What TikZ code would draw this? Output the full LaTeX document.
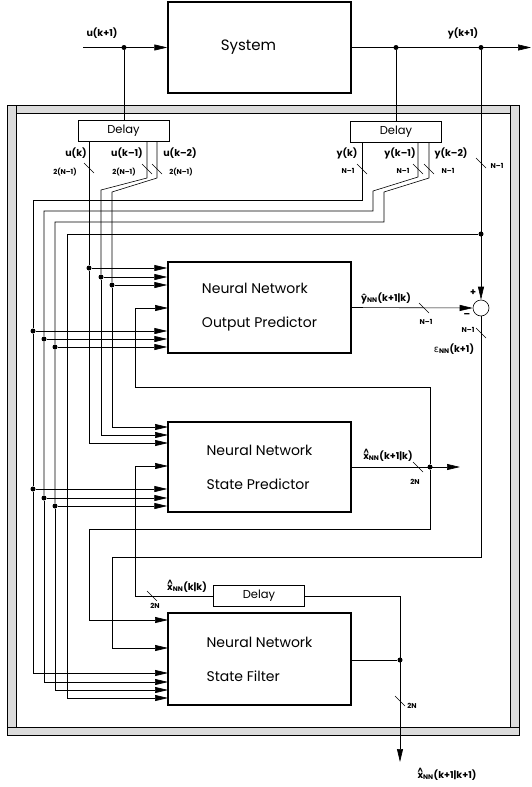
\documentclass[tikz,border=0pt]{standalone}
\usepackage{fontspec}
\usepackage{graphicx}
\setmainfont{Poppins}
\newfontfamily\grk{DejaVu Sans}
\usetikzlibrary{arrows.meta,positioning}

\newcommand{\xhat}{\leavevmode\setbox0\hbox{x}\rlap{\hbox to\wd0{\hss\raisebox{0.95ex}{\scalebox{0.8}{\symbol{"5E}}}\hss}}x}

\tikzset{every picture/.style={line width=0.6pt}}
\tikzset{
  blk/.style={draw, line width=1.4pt, minimum width=183, minimum height=91, inner sep=0pt, align=left, font=\fontsize{14}{34}\selectfont},
  dly/.style={draw, line width=0.6pt, minimum width=91, minimum height=21, inner sep=0pt, font=\fontsize{11.5}{12}\selectfont},
  wire/.style={line width=0.6pt},
  sig/.style={wire, -{Triangle[length=13pt,width=6pt]}},
  jdot/.style={circle, fill, inner sep=0pt, minimum size=5pt},
  lbl/.style={font=\bfseries\fontsize{9.5}{11}\selectfont, inner sep=1pt},
  buslbl/.style={font=\bfseries\fontsize{7}{8}\selectfont, inner sep=1pt},
  slash/.pic={\draw[wire] (-5,5) -- (5,-5);}
}

\begin{document}
\begin{tikzpicture}[x=1pt,y=1pt,yscale=-1]
	\useasboundingbox (0,0) rectangle (531,787);

	%Frame
	\filldraw[fill=black!14, line width=0.6pt, even odd rule] (7,105) rectangle (519,735) (16,113) rectangle (510,727);
	\draw (16,105) -- (16,113) (510,105) -- (510,113) (7,727) -- (16,727) (510,727) -- (519,727);

	%Blocks
	\node[blk, font=\fontsize{15}{18}\selectfont] (sys) at (259.5,47.5) {\hspace*{-22pt}System};
	\node[blk] (op) at (259.5,307.5) {Neural Network\\Output Predictor};
	\node[blk, minimum height=90] (sp) at (259.5,467) {Neural Network\\State Predictor};
	\node[blk, minimum height=92] (sf) at (259.5,659) {Neural Network\\State Filter};
	\node[dly] (delu) at (123.5,131) {Delay};
	\node[dly] (dely) at (396,131.5) {Delay};
	\node[dly] (delx) at (259,596) {Delay};
	\node[circle, draw, minimum size=16, inner sep=0pt] (sum) at (481,308) {};

	%System in and out
	\coordinate (uin) at (83,47.5);
	\coordinate (yend) at (531,47.5);
	\node[jdot] (ud) at (124,47.5) {};
	\node[jdot] (yd) at (396,47.5) {};
	\node[jdot] (yd2) at (481,47.5) {};
	\draw[sig] (uin) -- (sys.west);
	\draw[sig] (sys.east) -- (yend);
	\draw (ud) -- (ud |- delu.north);
	\draw (yd) -- (yd |- dely.north);
	\draw[sig] (yd2) -- (sum.north);

	%u(k)
	\node[jdot] (uk0) at (89,268) {};
	\coordinate (sp-u0) at (168,443);
	\draw (delu.south -| uk0) -- (uk0);
	\draw[sig] (uk0) -- (uk0 -| op.west);
	\draw[sig] (uk0) |- (sp-u0);
	%u(k-1)
	\coordinate (uk1a) at (147,178);
	\coordinate (uk1b) at (101,190);
	\node[jdot] (uk1) at (101,277) {};
	\coordinate (sp-u1) at (168,435);
	\draw (delu.south -| uk1a) -- (uk1a) -- (uk1b) -- (uk1);
	\draw[sig] (uk1) -- (uk1 -| op.west);
	\draw[sig] (uk1) |- (sp-u1);
	%u(k-2)
	\coordinate (uk2a) at (157,178);
	\coordinate (uk2b) at (112,192);
	\node[jdot] (uk2) at (112,285) {};
	\coordinate (sp-u2) at (168,427);
	\draw (delu.south -| uk2a) -- (uk2a) -- (uk2b) -- (uk2);
	\draw[sig] (uk2) -- (uk2 -| op.west);
	\draw[sig] (uk2) |- (sp-u2);

	%y(k)
	\coordinate (yk0a) at (362,200);
	\node[jdot] (yk0p) at (33,331) {};
	\node[jdot] (yk0s) at (33,489) {};
	\coordinate (sf-y0) at (168,673);
	\draw (dely.south -| yk0a) -- (yk0a) -| (yk0p) -- (yk0s);
	\draw[sig] (yk0s) |- (sf-y0);
	\draw[sig] (yk0p) -- (yk0p -| op.west);
	\draw[sig] (yk0s) -- (yk0s -| sp.west);
	%y(k-1)
	\coordinate (yk1a) at (418,177);
	\coordinate (yk1b) at (373,191);
	\coordinate (yk1c) at (373,211);
	\node[jdot] (yk1p) at (44,339) {};
	\node[jdot] (yk1s) at (44,498) {};
	\coordinate (sf-y1) at (168,682);
	\draw (dely.south -| yk1a) -- (yk1a) -- (yk1b) -- (yk1c) -| (yk1p) -- (yk1s);
	\draw[sig] (yk1s) |- (sf-y1);
	\draw[sig] (yk1p) -- (yk1p -| op.west);
	\draw[sig] (yk1s) -- (yk1s -| sp.west);
	%y(k-2)
	\coordinate (yk2a) at (429,178);
	\coordinate (yk2b) at (384,192);
	\coordinate (yk2c) at (384,222);
	\node[jdot] (yk2p) at (55,347) {};
	\node[jdot] (yk2s) at (55,506) {};
	\coordinate (sf-y2) at (168,690);
	\draw (dely.south -| yk2a) -- (yk2a) -- (yk2b) -- (yk2c) -| (yk2p) -- (yk2s);
	\draw[sig] (yk2s) |- (sf-y2);
	\draw[sig] (yk2p) -- (yk2p -| op.west);
	\draw[sig] (yk2s) -- (yk2s -| sp.west);
	%y(k+1)
	\node[jdot] (yfb) at (481,234) {};
	\coordinate (yfbc) at (67,234);
	\coordinate (sf-y3) at (168,698);
	\draw[sig] (yfb) -- (yfbc) |- (sf-y3);

	%Predictor output
	\draw[sig] (op.east) -- (sum.west);
	\node[jdot] (xsp) at (430,467) {};
	\coordinate (xout) at (460,467);
	\draw[sig] (sp.east) -- (xout);
	\coordinate (xspa) at (430,387);
	\coordinate (xspb) at (135,387);
	\coordinate (op-x) at (168,308);
	\draw[sig] (xsp) -- (xspa) -- (xspb) |- (op-x);
	\coordinate (xspc) at (430,529);
	\coordinate (xspd) at (89,529);
	\coordinate (sf-x) at (168,620);
	\draw[sig] (xsp) -- (xspc) -- (xspd) |- (sf-x);
	%error
	\coordinate (epa) at (481,557);
	\coordinate (epb) at (112,557);
	\coordinate (sf-e) at (168,648);
	\draw[sig] (sum.south) -- (epa) -- (epb) |- (sf-e);

	%Filter output
	\node[jdot] (xsf) at (400,660) {};
	\coordinate (xsfa) at (400,596);
	\coordinate (xfin) at (400,762);
	\coordinate (xdb) at (135,596);
	\coordinate (sp-x) at (168,466);
	\draw (xsf -| sf.east) -- (xsf);
	\draw[sig] (xsfa) -- (xfin);
	\draw (xsfa) -- (delx.east);
	\draw[sig] (delx.west) -- (xdb) |- (sp-x);

	%Bus slashes
	\foreach \p in {(89,168),(147,169),(157,169),(362,169),(418,169),(429,169),(481,163),(424,308),(481,333),(418,467),(152,596),(400,701)}
		\pic at \p {slash};

	% Text Node
	\node[lbl] (t-uin) at (102,33) {u(k+1)};
	\node[lbl] (t-yout) at (463,33) {y(k+1)};
	\node[lbl] (t-uk0) at (76,153) {u(k)};
	\node[lbl] (t-uk1) at (127,153) {u(k--1)};
	\node[lbl] (t-uk2) at (180,153) {u(k--2)};
	\node[buslbl] (n-uk0) at (65,172) {2(N--1)};
	\node[buslbl] (n-uk1) at (124,172) {2(N--1)};
	\node[buslbl] (n-uk2) at (181,172) {2(N--1)};
	\node[lbl] (t-yk0) at (347,153) {y(k)};
	\node[lbl] (t-yk1) at (400,153) {y(k--1)};
	\node[lbl] (t-yk2) at (451,153) {y(k--2)};
	\node[buslbl] (n-yk0) at (348,171) {N--1};
	\node[buslbl] (n-yk1) at (403,171) {N--1};
	\node[buslbl] (n-yk2) at (448,171) {N--1};
	\node[buslbl] (n-yfb) at (497,166) {N--1};
	\node[lbl] (t-yhat) at (386,298) {ŷ\textsubscript{NN}(k+1|k)};
	\node[buslbl] (n-yhat) at (426,322) {N--1};
	\node[lbl] (t-plus) at (473,293) {+};
	\node[lbl] (t-minus) at (467,315) {--};
	\node[buslbl] (n-eps) at (468,330) {N--1};
	\node[lbl] (t-eps) at (454,349) {{\grk\mdseries ε}\textsubscript{NN}(k+1)};
	\node[lbl] (t-xsp) at (388,455) {\xhat\textsubscript{NN}(k+1|k)};
	\node[buslbl] (n-xsp) at (415,482) {2N};
	\node[lbl] (t-xdel) at (187,586) {\xhat\textsubscript{NN}(k|k)};
	\node[buslbl] (n-xdel) at (155,606) {2N};
	\node[buslbl] (n-xsf) at (412,706) {2N};
	\node[lbl] (t-xsf) at (447,774) {\xhat\textsubscript{NN}(k+1|k+1)};

\end{tikzpicture}
\end{document}
